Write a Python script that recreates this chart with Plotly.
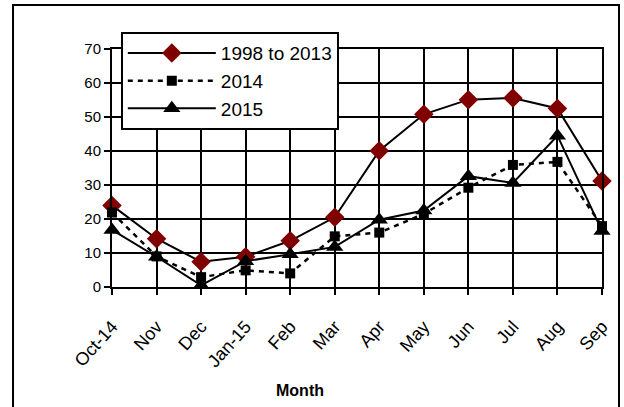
import plotly.graph_objects as go

months = ["Oct-14", "Nov", "Dec", "Jan-15", "Feb", "Mar", "Apr", "May", "Jun", "Jul", "Aug", "Sep"]
avg_1998_2013 = [24.0, 14.2, 7.4, 8.9, 13.6, 20.5, 40.1, 50.8, 55.1, 55.6, 52.5, 31.2]
y2014 = [21.9, 9.0, 2.9, 4.9, 4.0, 14.9, 16.0, 21.5, 29.2, 35.9, 36.8, 17.9]
y2015 = [16.8, 8.9, 0.5, 7.6, 9.6, 11.8, 19.8, 22.5, 32.6, 30.6, 44.5, 16.5]
y_ticks = [0, 10, 20, 30, 40, 50, 60, 70]

FONT = "Arial, Liberation Sans, sans-serif"

fig = go.Figure()
fig.add_trace(go.Scatter(
    x=months, y=avg_1998_2013, name="1998 to 2013", mode="lines+markers",
    line=dict(color="black", width=2),
    marker=dict(symbol="diamond", size=15, color="#800000", line=dict(width=0)),
    cliponaxis=False,
))
fig.add_trace(go.Scatter(
    x=months, y=y2014, name="2014", mode="lines+markers",
    line=dict(color="black", width=2.5, dash="5px,5px"),
    marker=dict(symbol="square", size=10, color="black"),
    cliponaxis=False,
))
fig.add_trace(go.Scatter(
    x=months, y=y2015, name="2015", mode="lines+markers",
    line=dict(color="black", width=2),
    marker=dict(symbol="triangle-up", size=15, color="black"),
    cliponaxis=False,
))

fig.update_layout(
    width=624, height=407,
    margin=dict(l=112, r=22, t=49, b=119.5, pad=0),
    paper_bgcolor="white", plot_bgcolor="white",
    font=dict(family=FONT, size=14, color="black"),
    showlegend=True,
    hovermode=False,
    legend=dict(
        x=0.018, y=1.071, xanchor="left", yanchor="top",
        bgcolor="white", bordercolor="black", borderwidth=2,
        font=dict(family=FONT, size=19, color="black"),
        itemwidth=88, tracegroupgap=0, traceorder="normal",
    ),
    xaxis=dict(
        type="category", range=[0, 11],
        showgrid=True, gridcolor="black", gridwidth=2,
        showline=True, linecolor="black", linewidth=2, mirror=True,
        ticks="outside", ticklen=6, tickwidth=2, tickcolor="black",
        tickangle=-48, ticklabelstandoff=14,
        tickfont=dict(family=FONT, size=18, color="black"),
        zeroline=False,
    ),
    yaxis=dict(
        range=[0, 70], tickvals=y_ticks,
        showgrid=True, gridcolor="black", gridwidth=2,
        showline=True, linecolor="black", linewidth=2, mirror=True,
        ticks="outside", ticklen=6, tickwidth=2, tickcolor="black",
        tickfont=dict(family=FONT, size=15, color="black"),
        zeroline=False,
    ),
    annotations=[dict(
        text="<b>Month</b>", xref="paper", yref="paper",
        x=0.3837, y=-0.435, xanchor="center", yanchor="middle",
        showarrow=False, font=dict(family=FONT, size=16, color="black"),
    )],
    shapes=[dict(
        type="rect", xref="paper", yref="paper",
        x0=-0.202, x1=1.0347, y0=-0.53, y1=1.1845,
        line=dict(color="black", width=2), fillcolor="rgba(0,0,0,0)", layer="below",
    )],
)

fig.write_html(
    "out.html",
    config={"displayModeBar": False, "staticPlot": True},
    post_script="document.body.style.margin='0';document.body.style.overflow='hidden';",
)
